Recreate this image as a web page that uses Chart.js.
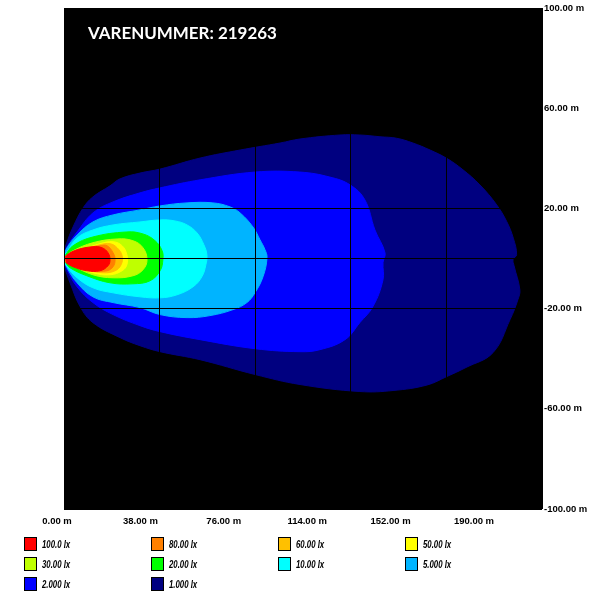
<!DOCTYPE html>
<html>
<head>
<meta charset="utf-8">
<script src="https://cdn.jsdelivr.net/npm/chart.js@4/dist/chart.umd.min.js"></script>
<style>
  html, body { margin: 0; padding: 0; background: #fff; }
  #wrap { position: relative; width: 597px; height: 600px; }
  #legend {
    position: absolute; left: 24px; top: 537px;
    display: grid; grid-template-columns: repeat(4, 127px); grid-auto-rows: 20px;
  }
  .item { display: flex; align-items: center; height: 14px; }
  .box { width: 11px; height: 12px; border: 1px solid #000; flex: none; }
  .txt {
    font: italic bold 10px 'Liberation Sans', Arial, sans-serif;
    margin-left: 5px; color: #000; white-space: nowrap;
    display: inline-block; transform: scaleX(0.78); transform-origin: left center;
  }
</style>
</head>
<body>
<div id="wrap">
  <canvas id="isolux" width="597" height="600"></canvas>
  <div id="legend"></div>
</div>
<script>
  // legend levels, strongest first
  const levels = ['100.0 lx', '80.00 lx', '60.00 lx', '50.00 lx', '30.00 lx',
                  '20.00 lx', '10.00 lx', '5.000 lx', '2.000 lx', '1.000 lx']
  const colors = ['#ff0000', '#ff8000', '#ffc000', '#ffff00', '#bfff00',
                  '#00ff00', '#00ffff', '#00b4ff', '#0000ff', '#000080']

  // contour outlines [distance m, side m]
  const lux100 = [[0.4,0.3],[1.2,1.5],[5.2,3.5],[11.5,4.7],[15.1,4.3],[17.5,2.3],[18.3,-0.5],
    [17.5,-2.9],[14.3,-4.9],[9.1,-4.9],[3.6,-3.3],[0.8,-1.7]]
  const lux80 = [[0.4,0.7],[6.4,3.5],[14.3,5.1],[17.1,5.1],[19.5,2.3],[20.3,-0.5],[19.5,-3.3],
    [17.1,-4.9],[11.5,-4.9],[6.4,-3.7],[0.4,-1.3]]
  const lux60 = [[0.4,0.7],[6.4,3.1],[14.3,5.5],[18.3,5.9],[21.1,4.3],[23.1,1.1],[22.7,-2.5],
    [20.3,-4.9],[15.5,-5.7],[9.1,-4.5],[3.6,-2.5],[0.4,-0.9]]
  const lux50 = [[0.4,0.7],[6.4,3.1],[14.3,5.9],[19.5,6.7],[23.1,5.1],[25.0,1.5],[25.0,-2.5],
    [23.1,-4.9],[18.3,-6.5],[11.5,-5.7],[5.2,-3.3],[0.4,-0.9]]
  const lux30 = [[0.4,0.7],[3.6,3.1],[11.5,6.3],[21.1,7.8],[27.4,7.1],[31.4,4.3],[33.0,-0.5],
    [31.4,-4.5],[27.4,-6.9],[19.5,-7.7],[11.5,-6.5],[3.6,-2.9],[0.4,-0.9]]
  const lux20 = [[0.4,1.1],[3.6,5.1],[11.5,8.6],[25.0,10.6],[31.4,9.8],[36.2,7.1],[39.0,3.1],
    [39.3,-0.5],[38.2,-4.9],[34.2,-8.9],[27.4,-10.1],[18.3,-9.7],[9.1,-6.9],[2.4,-3.7],[0.4,-1.3]]
  const lux10 = [[0,1.1],[1.2,2.7],[5.2,8.2],[11.5,11.4],[19.5,13.4],[30.2,14.6],[38.2,15.4],
    [44.1,15.0],[48.9,13.4],[52.9,10.2],[55.6,5.5],[56.8,1.5],[56.4,-2.5],[54.8,-7.3],
    [51.3,-11.3],[44.9,-14.5],[38.2,-15.7],[30.2,-15.3],[19.5,-13.7],[11.5,-11.7],
    [5.2,-7.7],[1.2,-3.3],[0,-0.9]]
  const lux5 = [[0,1.1],[1.2,4.3],[5.2,9.4],[11.5,14.6],[19.5,17.4],[30.2,19.4],[38.2,21.0],
    [48.9,22.2],[59.2,22.2],[66.0,20.6],[70.0,18.2],[75.1,12.6],[77.9,7.5],[79.9,3.5],
    [80.7,0.3],[79.1,-7.3],[75.9,-13.7],[72.7,-17.6],[67.2,-20.4],[58.0,-22.8],[48.9,-23.6],
    [38.2,-22.4],[30.2,-19.6],[19.5,-17.6],[11.5,-15.3],[5.2,-9.7],[1.2,-3.7],[0,-0.5]]
  const lux2 = [[0,1.5],[1.2,4.7],[5.2,10.6],[11.5,18.2],[19.5,22.6],[30.2,26.2],[38.2,28.2],
    [54.1,31.4],[75.9,34.5],[93.8,34.5],[105.7,32.5],[113.7,29.4],[119.6,23.4],[123.6,11.4],
    [127.6,2.3],[126.8,-1.7],[126.8,-8.5],[122.8,-19.2],[117.6,-25.6],[111.7,-32.4],
    [101.7,-36.4],[93.8,-37.2],[75.9,-36.0],[54.1,-32.4],[38.2,-29.2],[30.2,-26.8],
    [19.5,-22.4],[11.5,-17.6],[5.2,-11.3],[1.2,-4.5],[0,-1.3]]
  const lux1 = [[0,2.7],[0.8,5.5],[3.6,12.6],[7.6,20.2],[11.5,24.6],[18.3,29.0],[22.3,31.8],
    [30.2,34.1],[38.2,35.7],[54.1,40.1],[70.0,43.3],[85.9,46.1],[93.8,47.7],[109.7,49.3],
    [117.6,49.3],[125.6,48.6],[132.2,48.0],[138.7,46.1],[145.5,43.3],[152.1,40.0],
    [158.6,35.4],[165.3,29.4],[172.0,21.4],[176.0,14.7],[178.6,8.1],[179.9,1.5],
    [178.5,-0.4],[178.9,-2.9],[181.2,-12.5],[180.4,-16.5],[177.3,-24.4],[170.5,-37.6],
    [159.8,-43.5],[152.2,-47.1],[144.3,-50.5],[130.8,-52.7],[117.6,-53.1],[93.8,-50.3],
    [75.9,-46.3],[54.1,-40.4],[38.2,-37.2],[30.2,-34.8],[22.3,-31.6],[11.5,-25.6],
    [6.4,-19.2],[2.4,-9.7],[0.8,-5.3],[0,-2.5]]

  const contours = [lux100, lux80, lux60, lux50, lux30, lux20, lux10, lux5, lux2, lux1]

  const xTicks = [0, 38, 76, 114, 152, 190]
  const yTicks = [-100, -60, -20, 0, 20, 60, 100]
  const title = 'VARENUMMER: 219263'

  // the distance labels sit on their own spacing under the plot
  const xLabelMin = 3.19
  const xLabelMax = 220.99

  const tickFont = { family: "'Liberation Sans', Arial, sans-serif", size: 9.5, weight: 'bold' }

  const plotBg = {
    id: 'plotBg',
    beforeDraw (chart) {
      const { ctx, chartArea: a } = chart
      ctx.save()
      ctx.fillStyle = '#000'
      ctx.fillRect(a.left, a.top, a.right - a.left, a.bottom - a.top)
      ctx.restore()
    },
    afterDraw (chart) {
      const { ctx, chartArea: a } = chart
      ctx.save()
      let size = 18
      ctx.font = 'bold ' + size + 'px Lato, "Open Sans", sans-serif'
      size = size * 189 / ctx.measureText(title).width
      ctx.font = 'bold ' + size.toFixed(2) + 'px Lato, "Open Sans", sans-serif'
      ctx.fillStyle = '#fff'
      ctx.textBaseline = 'alphabetic'
      ctx.fillText(title, a.left + 24, a.top + 31)
      ctx.restore()
    }
  }

  const ctx = document.getElementById('isolux')
  const chart = new Chart(ctx, {
    type: 'scatter',
    data: {
      datasets: contours.map((pts, i) => ({
        label: levels[i],
        data: pts.map(p => ({ x: p[0], y: p[1] })),
        showLine: true,
        fill: 'shape',
        backgroundColor: colors[i],
        borderColor: colors[i],
        borderWidth: 1,
        pointRadius: 0,
        pointHoverRadius: 0,
        tension: 0.4
      }))
    },
    options: {
      responsive: false,
      animation: false,
      events: [],
      layout: { padding: { left: 64, top: 8, right: 0, bottom: 69 } },
      plugins: {
        legend: { display: false },
        tooltip: { enabled: false }
      },
      scales: {
        x: {
          type: 'linear', position: 'bottom', min: 0, max: 190,
          ticks: { display: false, stepSize: 38 },
          grid: { color: '#000', lineWidth: 1, drawTicks: false, z: 1 },
          border: { display: false },
          afterFit: s => { s.height = 0 }
        },
        xl: {
          type: 'linear', position: 'bottom', min: xLabelMin, max: xLabelMax,
          grid: { display: false, drawTicks: false },
          border: { display: false },
          afterBuildTicks: s => { s.ticks = xTicks.map(v => ({ value: v })) },
          ticks: {
            autoSkip: false, maxRotation: 0, padding: 7, color: '#000', font: tickFont,
            callback: v => v.toFixed(2) + ' m'
          },
          afterFit: s => { s.height = 22 }
        },
        y: {
          type: 'linear', position: 'right', min: -100, max: 100,
          afterBuildTicks: s => { s.ticks = yTicks.map(v => ({ value: v })) },
          grid: { color: '#000', lineWidth: 1, drawTicks: false, z: 1 },
          border: { display: false },
          ticks: {
            autoSkip: false, padding: 2, color: '#000', font: tickFont,
            callback: v => v === 0 ? '' : v.toFixed(2) + ' m'
          },
          afterFit: s => { s.width = 55 }
        }
      }
    },
    plugins: [plotBg]
  })

  // legend grid
  const legend = document.getElementById('legend')
  chart.data.datasets.forEach(ds => {
    const item = document.createElement('div')
    item.className = 'item'
    const box = document.createElement('span')
    box.className = 'box'
    box.style.background = ds.backgroundColor
    const txt = document.createElement('span')
    txt.className = 'txt'
    txt.textContent = ds.label
    item.appendChild(box)
    item.appendChild(txt)
    legend.appendChild(item)
  })
</script>
</body>
</html>
